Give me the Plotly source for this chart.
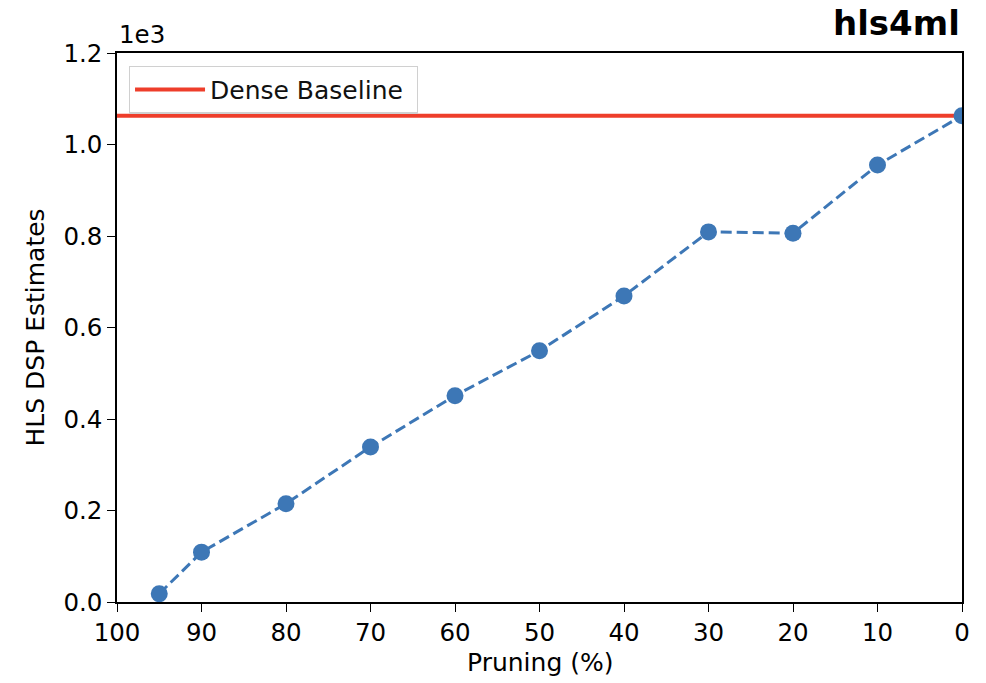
import plotly.graph_objects as go

pruning = [95, 90, 80, 70, 60, 50, 40, 30, 20, 10, 0]
dsp = [18, 109, 215, 339, 451, 549, 669, 809, 806, 955, 1063]
dense_baseline = 1063
x_ticks = [100, 90, 80, 70, 60, 50, 40, 30, 20, 10, 0]
y_ticks = [0.0, 0.2, 0.4, 0.6, 0.8, 1.0, 1.2]

FONT = "DejaVu Sans"
BLUE = "#3d77b6"
RED = "#ee3e2b"

fig = go.Figure()
fig.add_trace(go.Scatter(
    x=[100, 0], y=[dense_baseline / 1000] * 2, mode="lines",
    line=dict(color=RED, width=4), name="Dense Baseline\u00a0", showlegend=True))
fig.add_trace(go.Scatter(
    x=pruning, y=[v / 1000 for v in dsp], mode="lines+markers",
    line=dict(color=BLUE, width=3, dash="11px,5px"),
    marker=dict(color=BLUE, size=17), showlegend=False, name="DSP"))

axis_common = dict(showline=True, linecolor="black", linewidth=1.5, mirror=True,
                   ticks="outside", ticklen=8, tickwidth=1.3, tickcolor="black",
                   showgrid=False, zeroline=False,
                   tickfont=dict(family=FONT, size=24.5, color="black"))

fig.update_layout(
    width=986, height=683,
    margin=dict(l=117, r=24, t=53, b=81),
    plot_bgcolor="white", paper_bgcolor="white",
    xaxis=dict(range=[100, 0], tickvals=x_ticks, **axis_common),
    yaxis=dict(range=[0, 1.2], tickvals=y_ticks, tickformat=".1f", **axis_common),
    legend=dict(x=0.014, y=0.977, xanchor="left", yanchor="top",
                bgcolor="white", bordercolor="#d0d0d0", borderwidth=1.2,
                itemwidth=70,
                font=dict(family=FONT, size=25, color="#111")),
    font=dict(family=FONT, color="black"),
    annotations=[
        dict(text="<b>hls4ml</b>", xref="paper", yref="paper", x=1.0, y=1.0,
             xanchor="right", yanchor="bottom", yshift=8, showarrow=False,
             font=dict(family=FONT, size=34, color="black")),
        dict(text="1e3", xref="paper", yref="paper", x=0.0, y=1.0,
             xanchor="left", yanchor="bottom", yshift=2, showarrow=False,
             font=dict(family=FONT, size=24.5, color="black")),
        dict(text="Pruning (%)", xref="paper", yref="paper", x=0.5, y=0,
             xanchor="center", yanchor="top", yshift=-44, showarrow=False,
             font=dict(family=FONT, size=25, color="black")),
        dict(text="HLS DSP Estimates", xref="paper", yref="paper", x=0, y=0.5,
             xanchor="center", yanchor="middle", xshift=-82, textangle=-90,
             showarrow=False, font=dict(family=FONT, size=25, color="black")),
    ],
)

fig.write_html("out.html")
